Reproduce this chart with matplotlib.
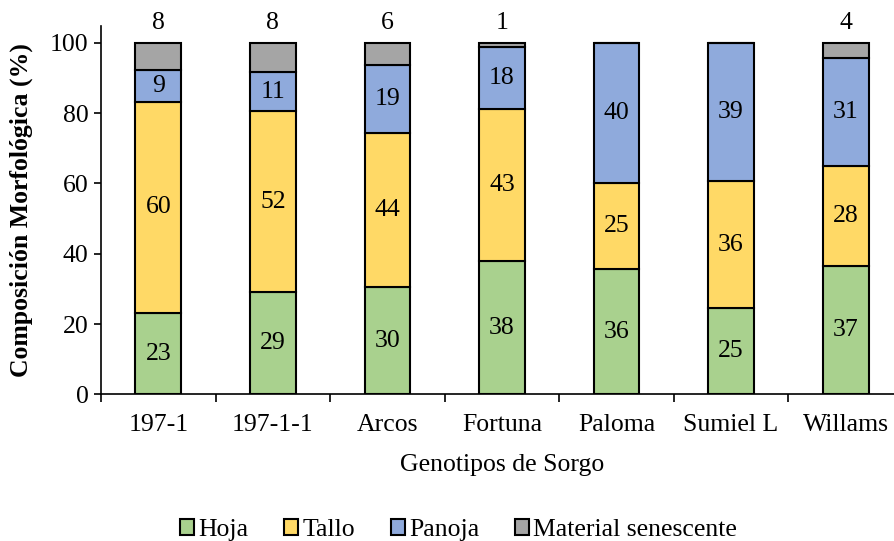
import matplotlib
matplotlib.use("Agg")
import matplotlib.pyplot as plt
import numpy as np

plt.rcParams['font.family'] = ['Liberation Serif', 'DejaVu Serif']

genotipos = ["197-1", "197-1-1", "Arcos", "Fortuna", "Paloma", "Sumiel L", "Willams"]
hoja = [23.2, 29.0, 30.5, 37.9, 35.6, 24.6, 36.6]
tallo = [60.1, 51.6, 43.8, 43.3, 24.6, 36.0, 28.4]
panoja = [9.0, 11.1, 19.4, 17.6, 39.8, 39.4, 30.6]
senescente = [7.7, 8.3, 6.3, 1.2, 0.0, 0.0, 4.4]
series_names = ["Hoja", "Tallo", "Panoja", "Material senescente"]
colors = ["#A9D18E", "#FFD966", "#8FAADC", "#A5A5A5"]

FS = 18.5

fig = plt.figure(figsize=(8.94, 5.41), dpi=100)
ax = fig.add_axes([0.113, 0.271, 0.897, 0.681])

x = np.arange(len(genotipos))
width = 0.4
bottom = np.zeros(len(genotipos))
all_series = [hoja, tallo, panoja, senescente]
for i, (vals, name, c) in enumerate(zip(all_series, series_names, colors)):
    vals = np.array(vals)
    ax.bar(x, vals, width, bottom=bottom, color=c, edgecolor="black",
           linewidth=1.5, label=name, zorder=3)
    for xi, v, b in zip(x, vals, bottom):
        if v <= 0:
            continue
        if i < 3:
            ax.text(xi, b + v / 2, f"{round(v):d}", ha="center", va="center",
                    fontsize=FS, zorder=4)
        else:
            ax.text(xi, 102.5, f"{round(v):d}", ha="center", va="bottom",
                    fontsize=FS, zorder=4)
    bottom = bottom + vals

ax.set_xlim(-0.5, 6.5)
ax.set_ylim(0, 104.8)
ax.set_yticks([0, 20, 40, 60, 80, 100])
ax.tick_params(axis="y", labelsize=FS, direction="out", length=5, width=1.2, pad=4)
ax.set_xticks(x)
ax.set_xticklabels(genotipos)
ax.set_xticks(np.arange(-0.5, 7.0, 1.0), minor=True)
ax.tick_params(axis="x", which="major", length=0, labelsize=FS, pad=14)
ax.tick_params(axis="x", which="minor", length=6, width=1.2, direction="out")

ax.spines["top"].set_visible(False)
ax.spines["right"].set_visible(False)
ax.spines["left"].set_linewidth(1.2)
ax.spines["bottom"].set_linewidth(1.2)

ax.set_ylabel("Composición Morfológica (%)", fontsize=FS, fontweight="bold", labelpad=12)
ax.set_xlabel("Genotipos de Sorgo", fontsize=FS, labelpad=13)

handles, labels = ax.get_legend_handles_labels()
fig.legend(handles, labels, loc="center", bbox_to_anchor=(0.513, 0.02), ncol=4,
           frameon=False, fontsize=FS, handlelength=0.55, handleheight=0.55,
           handletextpad=0.15, columnspacing=1.4)

fig.savefig("out.png", dpi=100)
